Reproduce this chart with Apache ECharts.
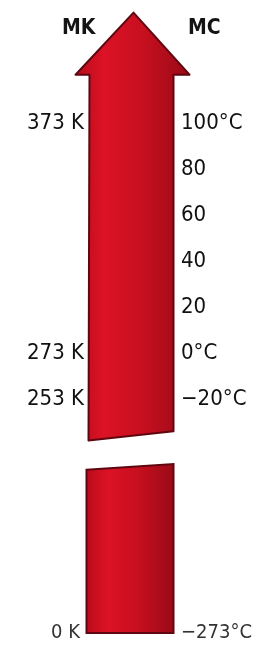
<!DOCTYPE html>
<html>
<head>
<meta charset="utf-8">
<title></title>
<script src="https://cdn.jsdelivr.net/npm/echarts@6/dist/echarts.min.js"></script>
<style>
  html, body { margin: 0; padding: 0; background: #fff; }
  #container { width: 263px; height: 649px; }
</style>
</head>
<body>
<div id="container"></div>
<script>
// 摄氏刻度 (右边)
var celsiusTicks = [100, 80, 60, 40, 20, 0, -20];
var celsiusLabels = ['100°C', '80', '60', '40', '20', '0°C', '−20°C'];
// 开氏刻度 (左边)
var kelvinTicks = [100, 0, -20];
var kelvinLabels = ['373 K', '273 K', '253 K'];
// 底部 绝对零度
var zeroTicks = [-273];
var zeroKelvin = ['0 K'];
var zeroCelsius = ['−273°C'];
// 箭头: [x, 尖端, 箭头底, 杆底左, 杆底右]  (°C)
var arrowUpper = [[0.5, 148, 121, -38, -34]];
// 下段: [x, 顶左, 顶右, 底]
var arrowLower = [[0.5, -202, -199.5, -273]];

var dom = document.getElementById('container');
var myChart = echarts.init(dom, null, { renderer: 'canvas' });

var fnt = 'DejaVu Sans Condensed';
var redFill = new echarts.graphic.LinearGradient(0, 0, 1, 0, [
    { offset: 0, color: '#b80c1a' },
    { offset: 0.25, color: '#dc1226' },
    { offset: 0.6, color: '#c60f1f' },
    { offset: 1, color: '#980a16' }
]);

function pickLabel(ticks, labels) {
    return function (v) {
        var i = ticks.indexOf(v);
        return i < 0 ? '' : labels[i];
    };
}

function hideY(extra) {
    var o = {
        type: 'value',
        axisLine: { show: false },
        axisTick: { show: false },
        splitLine: { show: false }
    };
    for (var k in extra) o[k] = extra[k];
    return o;
}

var option = {
    animation: false,
    title: [
        { text: 'MK', left: 57, top: 13, textStyle: { fontFamily: fnt, fontSize: 21, fontWeight: 'bold', color: '#141414' } },
        { text: 'MC', left: 183, top: 13, textStyle: { fontFamily: fnt, fontSize: 21, fontWeight: 'bold', color: '#141414' } }
    ],
    grid: [
        { left: 88, right: 88, top: 8, height: 437 },
        { left: 88, right: 88, top: 453.6, height: 179.4 }
    ],
    xAxis: [
        { type: 'value', gridIndex: 0, min: 0, max: 1, show: false },
        { type: 'value', gridIndex: 1, min: 0, max: 1, show: false }
    ],
    yAxis: [
        hideY({ gridIndex: 0, min: -40, max: 150, position: 'left',
            axisLabel: { customValues: kelvinTicks, formatter: pickLabel(kelvinTicks, kelvinLabels),
                margin: 4, fontFamily: fnt, fontSize: 22, color: '#111' } }),
        hideY({ gridIndex: 0, min: -40, max: 150, position: 'right',
            axisLabel: { customValues: celsiusTicks, formatter: pickLabel(celsiusTicks, celsiusLabels),
                margin: 6, fontFamily: fnt, fontSize: 22, color: '#111' } }),
        hideY({ gridIndex: 1, min: -273, max: -195, position: 'left',
            axisLabel: { customValues: zeroTicks, formatter: pickLabel(zeroTicks, zeroKelvin),
                margin: 8, fontFamily: fnt, fontSize: 20, color: '#333' } }),
        hideY({ gridIndex: 1, min: -273, max: -195, position: 'right',
            axisLabel: { customValues: zeroTicks, formatter: pickLabel(zeroTicks, zeroCelsius),
                margin: 6, fontFamily: fnt, fontSize: 20, color: '#333' } })
    ],
    series: [
        {
            type: 'custom',
            xAxisIndex: 0,
            yAxisIndex: 0,
            data: arrowUpper,
            renderItem: function (params, api) {
                var tip = api.coord([api.value(0), api.value(1)]);
                var base = api.coord([api.value(0), api.value(2)]);
                var bl = api.coord([api.value(0), api.value(3)]);
                var br = api.coord([api.value(0), api.value(4)]);
                var cx = tip[0], hw = 42, hh = 56;
                return {
                    type: 'polygon',
                    shape: { points: [
                        [cx + 2, tip[1]], [cx + hh + 2, base[1]], [cx + hw, base[1]],
                        [cx + hw, br[1]], [cx - hw - 1, bl[1]],
                        [cx - hw, base[1]], [cx - hh, base[1]]
                    ] },
                    style: { fill: redFill, stroke: '#5e0710', lineWidth: 2, lineJoin: 'round' }
                };
            }
        },
        {
            type: 'custom',
            xAxisIndex: 1,
            yAxisIndex: 2,
            data: arrowLower,
            renderItem: function (params, api) {
                var tl = api.coord([api.value(0), api.value(1)]);
                var tr = api.coord([api.value(0), api.value(2)]);
                var b = api.coord([api.value(0), api.value(3)]);
                var cx = tl[0], hw = 43;
                return {
                    type: 'polygon',
                    shape: { points: [
                        [cx - hw - 2, tl[1]], [cx + hw - 1, tr[1]],
                        [cx + hw - 1, b[1]], [cx - hw - 2, b[1]]
                    ] },
                    style: { fill: redFill, stroke: '#5e0710', lineWidth: 2 }
                };
            }
        }
    ]
};

myChart.setOption(option);
window.addEventListener('resize', myChart.resize);
</script>
</body>
</html>
